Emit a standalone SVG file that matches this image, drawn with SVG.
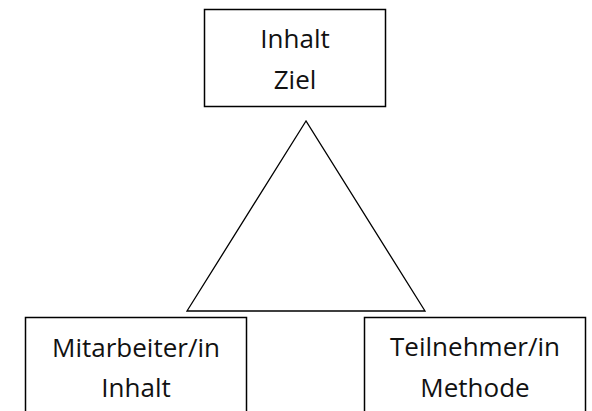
<svg xmlns="http://www.w3.org/2000/svg" width="592" height="411" viewBox="0 0 592 411">
<style>
.box{fill:#fff;stroke:#000;stroke-width:1.5}
.tri{fill:#fff;stroke:#000;stroke-width:1.3}
text{font-family:"Open Sans","Liberation Sans",sans-serif;font-size:26px;fill:#111;text-anchor:middle}
</style>
<rect width="592" height="411" fill="#fff"/>
<g id="connectors">
<polygon class="tri" points="306,121 187,311 425,311"/>
</g>
<g id="top">
<rect class="box" x="204.5" y="9.5" width="181" height="97"/>
<text x="295" y="48">Inhalt</text>
<text x="295" y="89">Ziel</text>
</g>
<g id="left">
<rect class="box" x="25.5" y="317.5" width="221" height="100"/>
<text x="136" y="357">Mitarbeiter/in</text>
<text x="136" y="397">Inhalt</text>
</g>
<g id="right">
<rect class="box" x="364.5" y="317.5" width="221" height="100"/>
<text x="475" y="356">Teilnehmer/in</text>
<text x="475" y="397">Methode</text>
</g>
</svg>
